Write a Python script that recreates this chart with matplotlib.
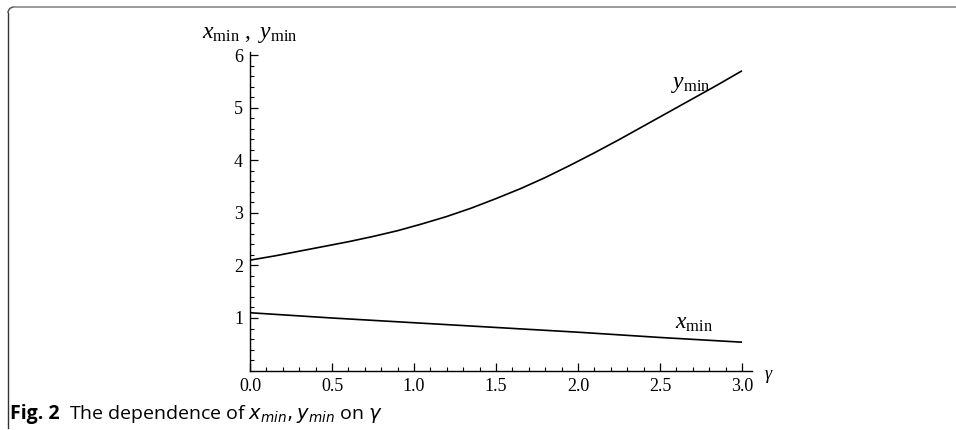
import numpy as np
import matplotlib
matplotlib.use("Agg")
import matplotlib.pyplot as plt
from matplotlib.ticker import MultipleLocator, FormatStrFormatter
from matplotlib.lines import Line2D
from matplotlib.patches import Arc

plt.rcParams['mathtext.fontset'] = 'custom'
plt.rcParams['mathtext.rm'] = 'Liberation Serif'
plt.rcParams['mathtext.it'] = 'Liberation Serif:italic'
plt.rcParams['mathtext.bf'] = 'Liberation Serif:bold'

# data
gamma_y = [0.0, 0.15, 0.3, 0.45, 0.6, 0.75, 0.9, 1.05, 1.2, 1.35, 1.5,
           1.65, 1.8, 1.95, 2.1, 2.25, 2.4, 2.55, 2.7, 2.85, 3.0]
y_min = [2.10, 2.18, 2.27, 2.36, 2.45, 2.55, 2.66, 2.79, 2.93, 3.09, 3.27,
         3.46, 3.67, 3.90, 4.14, 4.39, 4.65, 4.91, 5.17, 5.43, 5.70]
gamma_x = [0.0, 0.5, 1.0, 1.5, 2.0, 2.5, 3.0]
x_min = [1.10, 1.00, 0.91, 0.82, 0.73, 0.63, 0.54]
x_ticks = [0.0, 0.5, 1.0, 1.5, 2.0, 2.5, 3.0]
y_ticks = [1, 2, 3, 4, 5, 6]

W, H = 956, 430
fig = plt.figure(figsize=(W / 100, H / 100), dpi=100)

x0, x3 = 250, 742
y0, y6 = 370.6, 55
ppu_x = (x3 - x0) / 3.0
ppu_y = (y0 - y6) / 6.0
xmax, ymax = 3.06, 6.05
ax = fig.add_axes([x0 / W, (H - y0) / H, xmax * ppu_x / W, ymax * ppu_y / H])
ax.set_xlim(0, xmax)
ax.set_ylim(0, ymax)
ax.patch.set_alpha(0)

ax.plot(gamma_y, y_min, color='black', lw=1.2, solid_capstyle='butt')
ax.plot(gamma_x, x_min, color='black', lw=1.2, solid_capstyle='butt')

for s in ['top', 'right']:
    ax.spines[s].set_visible(False)
for s in ['left', 'bottom']:
    ax.spines[s].set_linewidth(1.0)

ax.set_xticks(x_ticks)
ax.set_yticks(y_ticks)
ax.xaxis.set_major_formatter(FormatStrFormatter('%.1f'))
ax.yaxis.set_major_formatter(FormatStrFormatter('%d'))
ax.xaxis.set_minor_locator(MultipleLocator(0.1))
ax.yaxis.set_minor_locator(MultipleLocator(0.2))
ax.tick_params(which='major', direction='in', length=6, width=0.9, pad=5,
               labelsize=13)
ax.tick_params(which='minor', direction='in', length=3, width=0.8)
for lab in ax.get_xticklabels() + ax.get_yticklabels():
    lab.set_fontfamily('Liberation Serif')

ax.text(2.69, 5.47, r'$y_{\mathrm{min}}$', fontsize=17, ha='center', va='center')
ax.text(2.71, 0.92, r'$x_{\mathrm{min}}$', fontsize=17, ha='center', va='center')
ax.text(3.165, -0.10, r'$\gamma$', fontsize=13, ha='center', va='center')
ax.text(0.0, 6.42, r'$x_{\mathrm{min}}\ ,\ y_{\mathrm{min}}$', fontsize=17,
        ha='center', va='center')

# frame
fig.add_artist(Line2D([14 / W, 1.0], [1 - 7 / H, 1 - 7 / H], color='#8a8a8a', lw=1.2))
fig.add_artist(Line2D([8 / W, 8 / W], [1 - 13 / H, 1 - 428 / H], color='#333333', lw=1.0))
fig.add_artist(Arc((14 / W, 1 - 13 / H), 12 / W, 12 / H, theta1=90, theta2=180,
                   color='#555555', lw=1.1, transform=fig.transFigure))

# caption
by = 1 - 419 / H
t1 = fig.text(10 / W, by, 'Fig. 2', fontsize=14, fontweight='bold',
              family='Open Sans', va='baseline')
fig.canvas.draw()
r = fig.canvas.get_renderer()
bb = t1.get_window_extent(r)
fig.text(bb.x1 / W + 9 / W, by,
         r'The dependence of $x_{min}, y_{min}$ on $\gamma$', fontsize=14,
         family='Open Sans', va='baseline', math_fontfamily='dejavusans')

fig.savefig('out.png', dpi=100)
